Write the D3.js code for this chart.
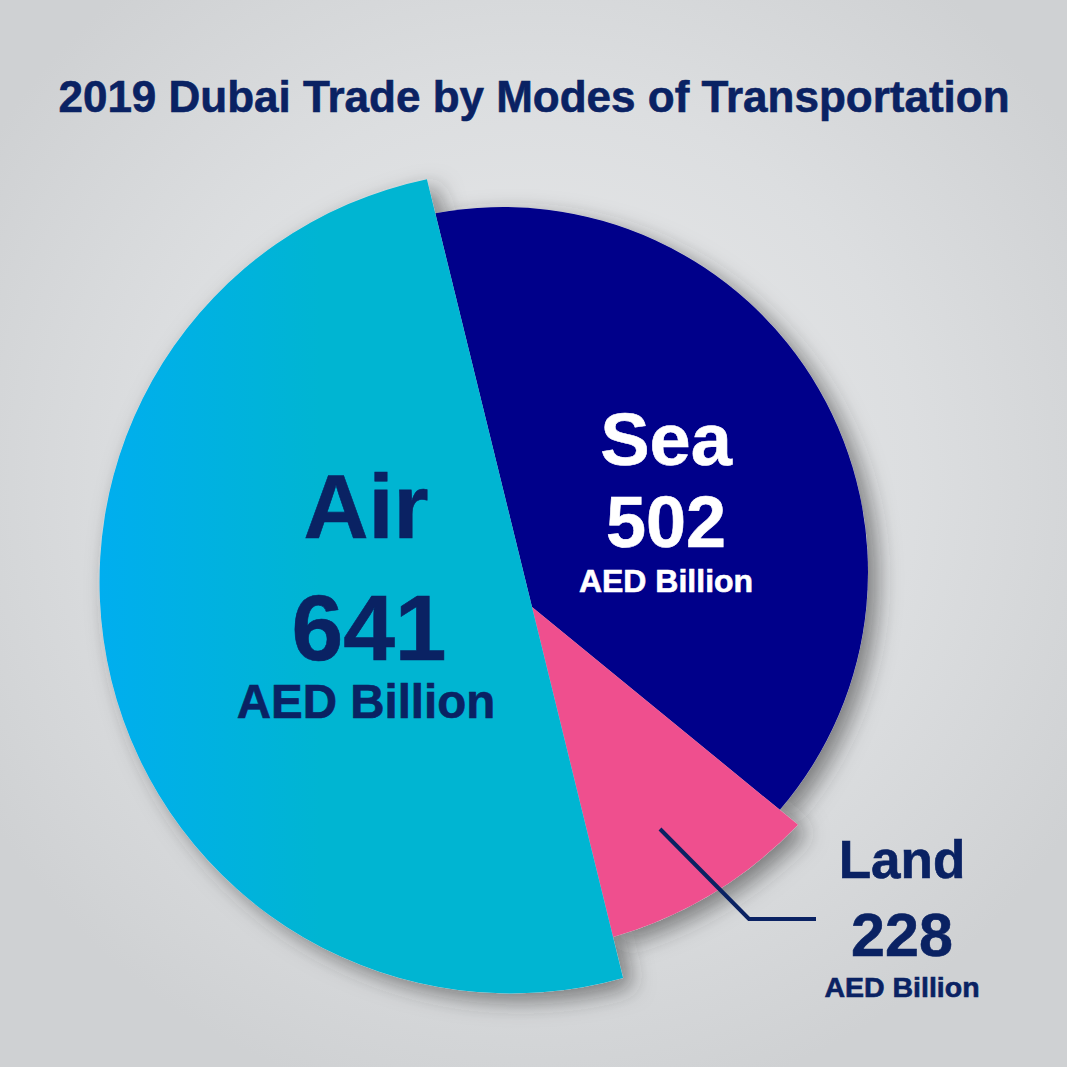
<!DOCTYPE html>
<html>
<head>
<meta charset="utf-8">
<script src="https://cdn.jsdelivr.net/npm/d3@7"></script>
<style>
  html, body { margin: 0; padding: 0; background: #fff; }
  svg { display: block; }
  text { font-family: "Liberation Sans", Arial, sans-serif; font-weight: 700; text-anchor: middle; stroke-width: 0.6; }
</style>
</head>
<body>
<div id="chart"></div>
<script>
// values as printed
const categories = ["Air", "Sea", "Land"];
const values = [641, 502, 228];
const unit = "AED Billion";
const title = "2019 Dubai Trade by Modes of Transportation";
// the slices in the picture are not proportional, so these are the angles read off it (degrees)
const drawnAngles = [180, 143.1, 36.9];

const size = 1067;
const navy = "#0a2263";
const apex = { x: 532, y: 607 };
const startDeg = 166.2;

// every slice has its own outer circle, not centred on the apex
const outline = {
  Air: { cx: 511, cy: 582, r: 411.5, fill: "url(#airFill)" },
  Sea: { cx: 503, cy: 572, r: 365, fill: "#00008a" },
  Land: { cx: 495, cy: 534, r: 420, fill: "#ef4f8e" },
};
const labelStyle = {
  Air: { x: 366, color: navy, name: [538, 90], value: [660, 93], valueX: 369, unit: [718, 47.5] },
  Sea: { x: 666, color: "#fff", name: [465, 74], value: [547, 72], unit: [592, 32] },
  Land: { x: 902, color: navy, name: [878, 53], value: [956, 61], unit: [997, 28.5] },
};

const svg = d3.select("#chart").append("svg").attr("width", size).attr("height", size);
const defs = svg.append("defs");

const bg = defs.append("radialGradient").attr("id", "bg")
  .attr("gradientUnits", "userSpaceOnUse")
  .attr("cx", 533).attr("cy", 480).attr("r", 640);
bg.append("stop").attr("offset", "0%").attr("stop-color", "#eaebec");
bg.append("stop").attr("offset", "60%").attr("stop-color", "#dcdee0");
bg.append("stop").attr("offset", "100%").attr("stop-color", "#cfd1d3");

const air = defs.append("linearGradient").attr("id", "airFill")
  .attr("gradientUnits", "userSpaceOnUse")
  .attr("x1", 99).attr("x2", 320).attr("y1", 0).attr("y2", 0);
air.append("stop").attr("offset", "0%").attr("stop-color", "#00aeef");
air.append("stop").attr("offset", "100%").attr("stop-color", "#00b5d2");

const shadow = defs.append("filter").attr("id", "shadow")
  .attr("x", "-20%").attr("y", "-20%").attr("width", "140%").attr("height", "140%");
shadow.append("feDropShadow")
  .attr("dx", 10).attr("dy", 8).attr("stdDeviation", 11)
  .attr("flood-color", "#333").attr("flood-opacity", 0.55);

svg.append("rect").attr("width", size).attr("height", size).attr("fill", "url(#bg)");

svg.append("text")
  .attr("x", 534).attr("y", 112)
  .attr("font-size", 44).attr("fill", navy).attr("stroke", navy)
  .text(title);

const pie = d3.pie()
  .sort(null)
  .value((d) => d.angle)
  .startAngle((startDeg * Math.PI) / 180)
  .endAngle(((startDeg + 360) * Math.PI) / 180);

const rows = categories.map((name, i) => ({ name, value: values[i], angle: drawnAngles[i] }));
const slices = pie(rows);

// where the ray leaving the apex at angle a meets a circle
function rim(a, c) {
  const dx = Math.sin(a), dy = -Math.cos(a);
  const ox = apex.x - c.cx, oy = apex.y - c.cy;
  const b = ox * dx + oy * dy;
  const t = -b + Math.sqrt(b * b - (ox * ox + oy * oy - c.r * c.r));
  return [apex.x + t * dx, apex.y + t * dy];
}

function slicePath(d) {
  const c = outline[d.data.name];
  const p0 = rim(d.startAngle, c), p1 = rim(d.endAngle, c);
  const path = d3.path();
  path.moveTo(apex.x, apex.y);
  path.lineTo(p0[0], p0[1]);
  path.arc(c.cx, c.cy, c.r,
    Math.atan2(p0[1] - c.cy, p0[0] - c.cx),
    Math.atan2(p1[1] - c.cy, p1[0] - c.cx));
  path.closePath();
  return path.toString();
}

// shadows go in their own layer so they only fall on the background
// light fill so no dark rim shows round the slices
svg.selectAll("path.shade")
  .data(slices)
  .enter()
  .append("path")
  .attr("class", "shade")
  .attr("d", slicePath)
  .attr("fill", "#dfe0e2")
  .attr("filter", "url(#shadow)");

svg.selectAll("path.slice")
  .data([slices[1], slices[2], slices[0]])
  .enter()
  .append("path")
  .attr("class", "slice")
  .attr("d", slicePath)
  .attr("fill", (d) => outline[d.data.name].fill);

// leader line of the Land label
const leader = d3.line();
svg.append("path")
  .attr("d", leader([[660, 829], [749, 919], [816, 919]]))
  .attr("fill", "none")
  .attr("stroke", navy)
  .attr("stroke-width", 4);

rows.forEach((d) => {
  const s = labelStyle[d.name];
  const g = svg.append("g").attr("fill", s.color).attr("stroke", s.color);
  g.append("text").attr("x", s.x).attr("y", s.name[0]).attr("font-size", s.name[1]).text(d.name);
  g.append("text").attr("x", s.valueX || s.x).attr("y", s.value[0]).attr("font-size", s.value[1]).text(d.value);
  g.append("text").attr("x", s.x).attr("y", s.unit[0]).attr("font-size", s.unit[1]).text(unit);
});
</script>
</body>
</html>
